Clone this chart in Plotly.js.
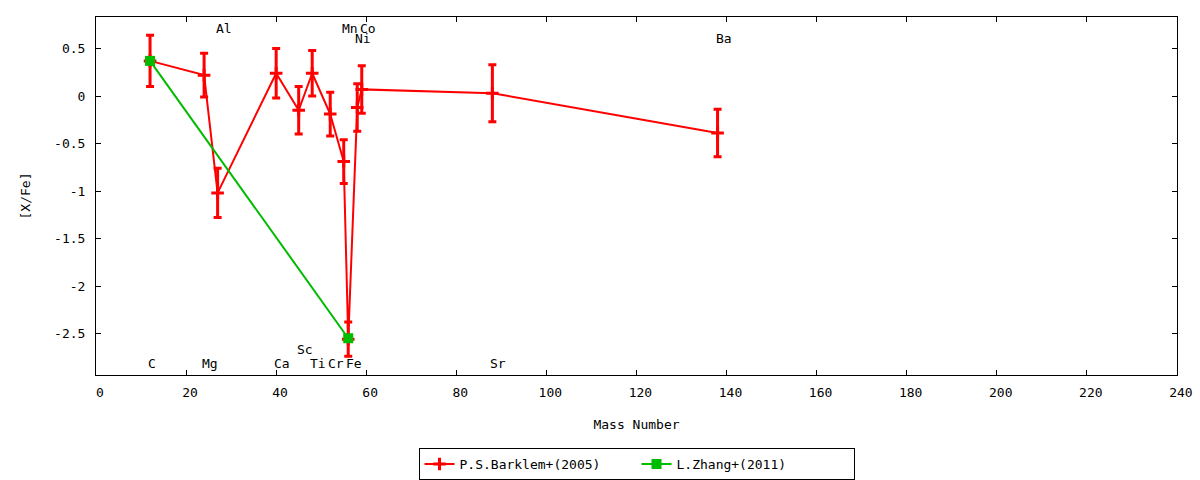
<!DOCTYPE html>
<html>
<head>
<meta charset="utf-8">
<script src="https://cdn.plot.ly/plotly-3.0.1.min.js"></script>
<style>html,body{margin:0;padding:0;background:#fff;}#chart{width:1200px;height:480px;}</style>
</head>
<body>
<div id="chart"></div>
<script>
// Barklem et al. (2005)
const barklemElements = ['C','Mg','Al','Ca','Sc','Ti','Cr','Mn','Fe','Ni','Co','Sr','Ba'];
const barklemMass     = [12, 24, 27, 40, 45, 48, 52, 55, 56, 58, 59, 88, 138];
const barklemXFe      = [0.37, 0.22, -1.02, 0.24, -0.15, 0.24, -0.19, -0.69, -2.56, -0.12, 0.07, 0.03, -0.39];
const barklemErr      = [0.27, 0.23, 0.26, 0.26, 0.25, 0.24, 0.23, 0.23, 0.18, 0.25, 0.25, 0.30, 0.25];

// Zhang et al. (2011)
const zhangElements = ['C','Fe'];
const zhangMass     = [12, 56];
const zhangXFe      = [0.37, -2.55];

// Element labels shown on the chart (name, mass number)
const labelElements = ['C','Mg','Al','Ca','Sc','Ti','Cr','Mn','Fe','Co','Ni','Sr','Ba'];
const labelMass     = [12, 24, 27, 40, 45, 48, 52, 55, 56, 59, 58, 88, 138];

const xTickVals = [0,20,40,60,80,100,120,140,160,180,200,220,240];
const xTickText = ['0','20','40','60','80','100','120','140','160','180','200','220','240'];
const yTickVals = [0.5,0,-0.5,-1,-1.5,-2,-2.5];
const yTickText = ['0.5','0','-0.5','-1','-1.5','-2','-2.5'];

// label rows (layout only)
const LABEL_ROW = {C:'b1',Mg:'b1',Al:'t1',Ca:'b1',Sc:'b2',Ti:'b1',Cr:'b1',Mn:'t1',Fe:'b1',Co:'t1',Ni:'t2',Sr:'b1',Ba:'t2'};
const ROW_Y = {t1:0.71, t2:0.61, b1:-2.82, b2:-2.67};

const FONT = '"DejaVu Sans Mono", monospace';

const traces = [
  {
    name: 'P.S.Barklem+(2005)',
    x: barklemMass, y: barklemXFe,
    type: 'scatter', mode: 'lines+markers',
    line: {color: '#ff0000', width: 2},
    marker: {symbol: 'cross-thin', size: 9, color: '#ff0000', line: {color: '#ff0000', width: 3}},
    error_y: {type: 'data', array: barklemErr, visible: true, color: '#ff0000', thickness: 3, width: 4},
    cliponaxis: false
  },
  {
    name: 'L.Zhang+(2011)',
    x: zhangMass, y: zhangXFe,
    type: 'scatter', mode: 'lines+markers',
    line: {color: '#00bb00', width: 2},
    marker: {symbol: 'square', size: 10, color: '#00bb00'},
    cliponaxis: false
  }
];

const annotations = labelElements.map((el, i) => ({
  x: labelMass[i], y: ROW_Y[LABEL_ROW[el]], xref: 'x', yref: 'y',
  text: el, showarrow: false, xanchor: 'left', yanchor: 'middle', xshift: -4,
  font: {family: FONT, size: 13, color: '#000'}
}));

const layout = {
  width: 1200, height: 480,
  margin: {l: 96, r: 23, t: 17, b: 105},
  paper_bgcolor: '#fff', plot_bgcolor: '#fff',
  font: {family: FONT, size: 13, color: '#000'},
  showlegend: true,
  legend: {
    orientation: 'h', x: 0.5, xanchor: 'center', xref: 'paper',
    y: 0.0667, yanchor: 'top', yref: 'container',
    bordercolor: '#000', borderwidth: 1, bgcolor: '#fff',
    entrywidth: 172, entrywidthmode: 'pixels',
    font: {family: FONT, size: 13, color: '#000'}
  },
  xaxis: {
    range: [0, 240], tickvals: xTickVals, ticktext: xTickText.map(t => '\u00a0' + t),
    ticks: 'inside', ticklen: 5, tickcolor: '#000', tickwidth: 1,
    showline: true, linecolor: '#000', linewidth: 1, mirror: 'ticks',
    showgrid: false, zeroline: false, automargin: false, ticklabelstandoff: 5,
    title: {text: 'Mass Number', font: {family: FONT, size: 13}, standoff: 21}
  },
  yaxis: {
    range: [-2.937, 0.832], tickvals: yTickVals, ticktext: yTickText,
    ticks: 'inside', ticklen: 5, tickcolor: '#000', tickwidth: 1,
    showline: true, linecolor: '#000', linewidth: 1, mirror: 'ticks',
    showgrid: false, zeroline: false, automargin: false, ticklabelstandoff: 7,
    title: {text: '[X/Fe]', font: {family: FONT, size: 13}, standoff: 20}
  },
  annotations: annotations
};

Plotly.newPlot('chart', traces, layout, {displayModeBar: false, staticPlot: true});
</script>
</body>
</html>
